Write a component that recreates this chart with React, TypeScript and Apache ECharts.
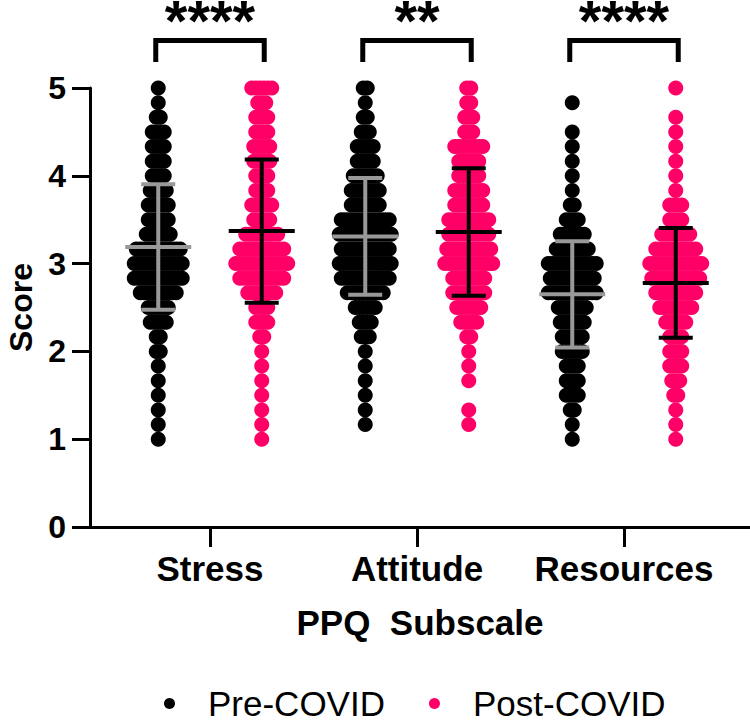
import React, { useEffect, useRef } from "react";
import * as echarts from "echarts";

// ---- Data ----
const CATEGORIES = ["Stress", "Attitude", "Resources"];
const SERIES_NAMES = ["Pre-COVID", "Post-COVID"];
const SIG_LABELS = ["****", "**", "****"];

// Score levels, top to bottom (PPQ subscale scores move in steps of 1/6)
const LEVELS = [
  5.0, 4.833, 4.667, 4.5, 4.333, 4.167, 4.0, 3.833, 3.667, 3.5, 3.333, 3.167, 3.0,
  2.833, 2.667, 2.5, 2.333, 2.167, 2.0, 1.833, 1.667, 1.5, 1.333, 1.167, 1.0,
];

// Number of participants at each level (same order as LEVELS)
const STRESS_PRE = [1, 1, 2, 4, 4, 4, 4, 5, 6, 6, 7, 12, 13, 13, 10, 6, 5, 2, 2, 1, 1, 1, 1, 1, 1];
const STRESS_POST = [6, 3, 4, 4, 5, 5, 4, 4, 6, 5, 9, 12, 14, 12, 8, 4, 4, 2, 1, 1, 1, 1, 1, 1, 1];
const ATTITUDE_PRE = [2, 1, 2, 3, 5, 5, 7, 8, 8, 13, 14, 13, 14, 13, 10, 6, 4, 3, 1, 1, 1, 1, 1, 1, 0];
const ATTITUDE_POST = [2, 2, 3, 3, 8, 6, 6, 8, 8, 11, 11, 12, 13, 9, 9, 7, 5, 2, 1, 1, 1, 0, 1, 1, 0];
const RESOURCES_PRE = [0, 1, 0, 1, 1, 1, 1, 1, 2, 4, 7, 9, 13, 12, 13, 8, 7, 6, 6, 4, 4, 4, 2, 1, 1];
const RESOURCES_POST = [1, 0, 1, 1, 1, 1, 1, 1, 4, 4, 8, 11, 14, 13, 11, 9, 6, 4, 4, 4, 3, 2, 1, 1, 1];

// Mean and SD per subscale
const PRE_MEAN = [3.19, 3.31, 2.65];
const PRE_SD = [0.715, 0.665, 0.605];
const POST_MEAN = [3.37, 3.36, 2.78];
const POST_SD = [0.815, 0.725, 0.625];

// ---- Styling / layout constants ----
const PINK = "#FF0066";
const GREY = "#999999";
const FONT = "'Liberation Sans', Arial, Helvetica, sans-serif";
const GROUP_OFFSET = 0.25; // pre at -0.25, post at +0.25 around each category
const DOT_STEP = 0.0193; // horizontal step between dots in a row (axis units)
const BRACKET_TOP = 5.541;
const BRACKET_LEG = 5.296;
const STAR_Y = 5.77;

function swarm(groups: number[][], offset: number) {
  const pts: number[][] = [];
  groups.forEach((counts, c) => {
    counts.forEach((n, i) => {
      for (let j = 0; j < n; j++) {
        pts.push([c + 1 + offset + (j - (n - 1) / 2) * DOT_STEP, LEVELS[i]]);
      }
    });
  });
  return pts;
}

function errorBarSeries(means: number[], sds: number[], offset: number, color: string) {
  return {
    type: "custom",
    z: 5,
    silent: true,
    clip: false,
    data: means.map((m, i) => [i + 1 + offset, m, sds[i]]),
    renderItem: (params: any, api: any) => {
      const x = api.value(0);
      const m = api.value(1);
      const sd = api.value(2);
      const c = api.coord([x, m]);
      const t = api.coord([x, m + sd]);
      const b = api.coord([x, m - sd]);
      const style = { stroke: color, lineWidth: 4, lineCap: "butt" };
      return {
        type: "group",
        children: [
          { type: "line", shape: { x1: c[0], y1: t[1], x2: c[0], y2: b[1] }, style },
          { type: "line", shape: { x1: c[0] - 17, y1: t[1], x2: c[0] + 17, y2: t[1] }, style },
          { type: "line", shape: { x1: c[0] - 17, y1: b[1], x2: c[0] + 17, y2: b[1] }, style },
          { type: "line", shape: { x1: c[0] - 33, y1: c[1], x2: c[0] + 33, y2: c[1] }, style },
        ],
      };
    },
  };
}

export default function App() {
  const ref = useRef<HTMLDivElement>(null);

  useEffect(() => {
    if (!ref.current) return;
    const chart = echarts.init(ref.current, undefined, { renderer: "svg" });

    const pre = swarm([STRESS_PRE, ATTITUDE_PRE, RESOURCES_PRE], -GROUP_OFFSET);
    const post = swarm([STRESS_POST, ATTITUDE_POST, RESOURCES_POST], GROUP_OFFSET);

    const option: any = {
      animation: false,
      backgroundColor: "#ffffff",
      textStyle: { fontFamily: FONT },
      grid: { left: 90, right: 0, top: 88, bottom: 195, containLabel: false, outerBoundsMode: "none" },
      legend: {
        data: SERIES_NAMES,
        left: 159,
        top: 681,
        itemWidth: 11,
        itemHeight: 11,
        itemGap: 44,
        icon: "circle",
        textStyle: {
          fontSize: 35,
          lineHeight: 34,
          fontFamily: FONT,
          color: "#000",
          padding: [0, 0, 0, 28],
        },
      },
      xAxis: {
        type: "value",
        min: 0.4203,
        max: 3.6087,
        splitLine: { show: false },
        axisLine: { show: true, onZero: false, lineStyle: { color: "#000", width: 3 } },
        axisTick: { show: true, customValues: [1, 2, 3], length: 20, lineStyle: { color: "#000", width: 3 } },
        axisLabel: {
          show: true,
          customValues: [1, 2, 3],
          formatter: (v: number) => CATEGORIES[Math.round(v) - 1] ?? "",
          fontSize: 35,
          fontWeight: "bold",
          fontFamily: FONT,
          color: "#000",
          margin: 24,
        },
        name: "PPQ  Subscale",
        nameLocation: "middle",
        nameGap: 78,
        nameTextStyle: { fontSize: 35, fontWeight: "bold", fontFamily: FONT, color: "#000" },
      },
      yAxis: {
        type: "value",
        min: 0,
        max: 5,
        interval: 1,
        splitLine: { show: false },
        axisLine: { show: true, lineStyle: { color: "#000", width: 3 } },
        axisTick: { show: true, length: 18, lineStyle: { color: "#000", width: 3 } },
        axisLabel: { fontSize: 32, fontWeight: "bold", fontFamily: FONT, color: "#000", margin: 24 },
        name: "Score",
        nameLocation: "middle",
        nameRotate: 90,
        nameGap: 44,
        nameTextStyle: { fontSize: 32, fontWeight: "bold", fontFamily: FONT, color: "#000" },
      },
      series: [
        {
          name: SERIES_NAMES[0],
          type: "scatter",
          symbol: "circle",
          symbolSize: 15,
          itemStyle: { color: "#000000", opacity: 1 },
          data: pre,
          z: 2,
        },
        {
          name: SERIES_NAMES[1],
          type: "scatter",
          symbol: "circle",
          symbolSize: 15,
          itemStyle: { color: PINK, opacity: 1 },
          data: post,
          z: 2,
        },
        errorBarSeries(PRE_MEAN, PRE_SD, -GROUP_OFFSET, GREY),
        errorBarSeries(POST_MEAN, POST_SD, GROUP_OFFSET, "#000000"),
        {
          type: "custom",
          silent: true,
          clip: false,
          z: 6,
          data: CATEGORIES.map((_, i) => [i + 1]),
          renderItem: (params: any, api: any) => {
            const x = api.value(0);
            const l = api.coord([x - 0.262, BRACKET_TOP]);
            const r = api.coord([x + 0.262, BRACKET_TOP]);
            const lb = api.coord([x - 0.262, BRACKET_LEG]);
            const s = api.coord([x, STAR_Y]);
            return {
              type: "group",
              children: [
                {
                  type: "polyline",
                  shape: { points: [[lb[0], lb[1]], [l[0], l[1]], [r[0], r[1]], [r[0], lb[1]]] },
                  style: { stroke: "#000", lineWidth: 5, fill: null, lineJoin: "miter" },
                },
                {
                  type: "text",
                  style: {
                    text: SIG_LABELS[params.dataIndex],
                    x: s[0],
                    y: s[1],
                    align: "center",
                    verticalAlign: "middle",
                    fontSize: 58,
                    lineHeight: 24,
                    fontWeight: "bold",
                    fontFamily: FONT,
                    fill: "#000",
                  },
                },
              ],
            };
          },
        },
      ],
    };

    chart.setOption(option);
    return () => chart.dispose();
  }, []);

  return (
    <div
      ref={ref}
      style={{ position: "fixed", left: 0, top: 0, width: 750, height: 722, background: "#fff" }}
    />
  );
}
